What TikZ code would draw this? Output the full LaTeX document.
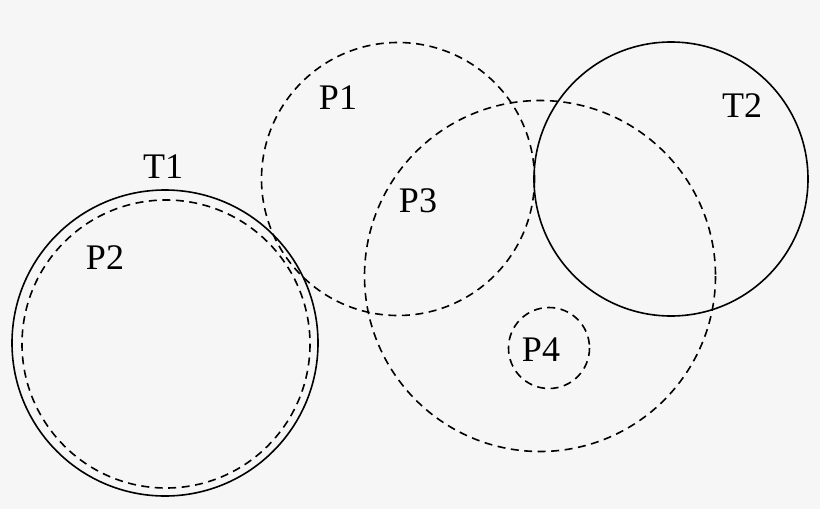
\documentclass[tikz,border=0pt]{standalone}
\usepackage{fontspec}
\setmainfont{Liberation Serif}
\begin{document}
\begin{tikzpicture}[x=1pt,y=-1pt,
  solidc/.style={draw=black,line width=1.6pt},
  dashc/.style={draw=black,line width=1.6pt,dash pattern=on 8pt off 5.5pt},
  lbl/.style={font=\fontsize{36}{36}\selectfont,inner sep=0pt}]
\fill[fill={rgb,255:red,246;green,246;blue,246}] (0,0) rectangle (820,509);
\useasboundingbox (0,0) rectangle (820,509);
\draw[solidc] (165,343) circle (153);
\draw[dashc] (166,344) circle (144);
\draw[dashc] (398,179) circle (136.5);
\draw[dashc] (540,276) circle (175.5);
\draw[solidc] (671,179) circle (137);
\draw[dashc] (549,348) circle (40.5);
\node[lbl] (t1) at (163,167) {T1};
\node[lbl] (p2) at (105,258) {P2};
\node[lbl] (p1) at (338,98) {P1};
\node[lbl] (p3) at (418,201) {P3};
\node[lbl] (t2) at (742,106) {T2};
\node[lbl] (p4) at (541,350) {P4};
\end{tikzpicture}
\end{document}
